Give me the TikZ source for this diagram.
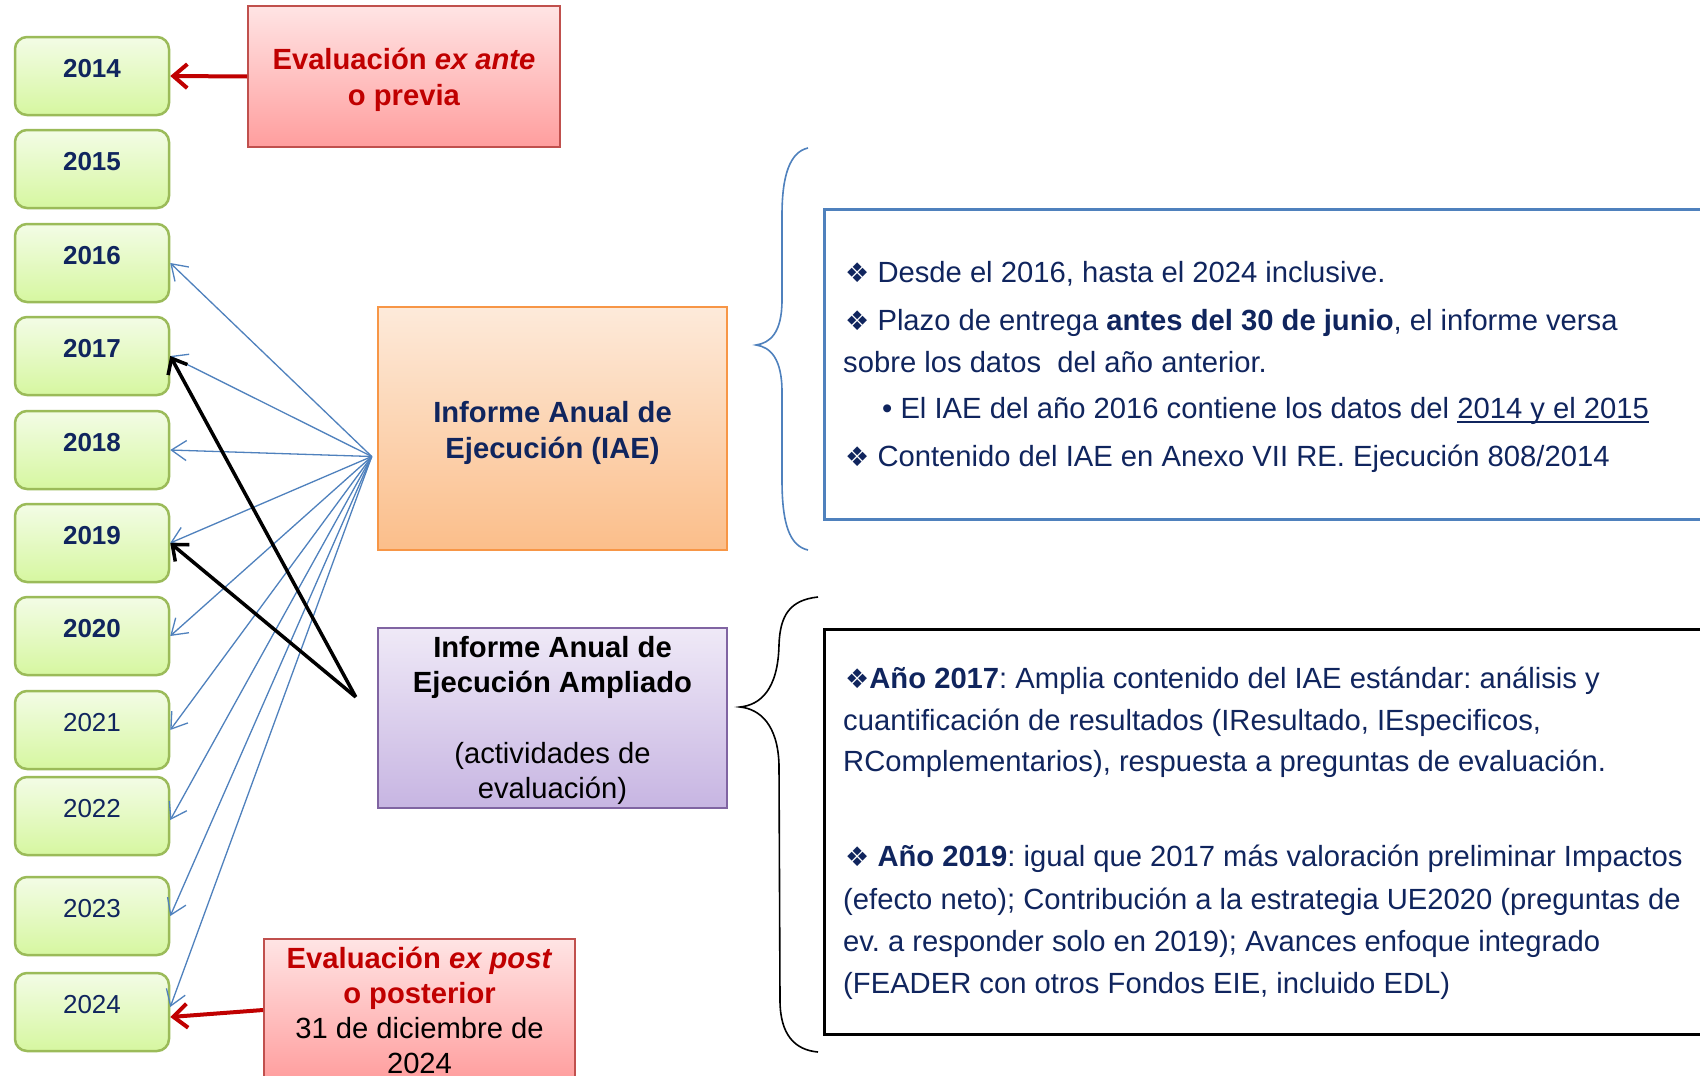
\documentclass[tikz,border=0pt]{standalone}
\usepackage{fontspec}
\setmainfont{Liberation Sans}
\newfontfamily\dv{DejaVu Sans}
\usetikzlibrary{arrows.meta}
\frenchspacing
\definecolor{navy}{RGB}{16,37,94}
\definecolor{dred}{RGB}{192,0,0}
\definecolor{gborder}{RGB}{155,187,89}
\definecolor{gtop}{RGB}{243,252,230}
\definecolor{gbot}{RGB}{214,247,160}
\definecolor{otop}{RGB}{253,234,218}
\definecolor{obot}{RGB}{251,190,138}
\definecolor{oborder}{RGB}{247,150,70}
\definecolor{ptop}{RGB}{239,233,247}
\definecolor{pbot}{RGB}{199,181,226}
\definecolor{pborder}{RGB}{128,100,162}
\definecolor{rtop}{RGB}{255,228,228}
\definecolor{rbot}{RGB}{255,158,158}
\definecolor{rborder}{RGB}{192,80,77}
\definecolor{blueline}{RGB}{79,129,189}
\newcommand{\dia}{{\dv\fontsize{27}{27}\selectfont\raisebox{0pt}{❖}}}
\newcommand{\ulin}[1]{\setbox0\hbox{#1}\rlap{\rule[-4.5pt]{\wd0}{2pt}}\box0}
\newcommand{\bodyf}{\fontsize{29.2}{35}\selectfont}
\newcommand{\yearf}{\fontsize{26}{30}\selectfont}
\begin{document}
\begin{tikzpicture}[x=1pt,y=-1pt,
  yearbox/.style={draw=gborder, line width=2.5pt, rounded corners=12pt,
    top color=gtop, bottom color=gbot, minimum width=154pt, minimum height=78pt,
    inner sep=0pt, text=navy, text height=19pt, text depth=16pt},
  redbox/.style={draw=rborder, line width=2pt, top color=rtop, bottom color=rbot,
    inner sep=0pt, align=center, font=\bodyf},
  orangebox/.style={draw=oborder, line width=2.5pt, top color=otop, bottom color=obot,
    inner sep=0pt},
  purplebox/.style={draw=pborder, line width=2.5pt, top color=ptop, bottom color=pbot,
    inner sep=0pt},
  boxlabel/.style={inner sep=0pt, align=center, font=\bodyf},
  textline/.style={anchor=base west, inner sep=0pt, font=\bodyf, text=navy},
  blueconn/.style={draw=blueline, line width=1.3pt, -{Straight Barb[length=15pt,width=20pt]}},
  blackconn/.style={draw=black, line width=3.5pt, -{Straight Barb[length=13pt,width=22pt]}},
  redconn/.style={draw=dred, line width=4pt, -{Straight Barb[length=14pt,width=24pt]}},
]
\useasboundingbox (0,0) rectangle (1700,1076);
\clip (0,0) rectangle (1700,1076);
\fill[white] (0,0) rectangle (1700,1076);

% year boxes
\node[yearbox, font=\yearf\bfseries] (y2014) at (92,76) {2014};
\node[yearbox, font=\yearf\bfseries] (y2015) at (92,169) {2015};
\node[yearbox, font=\yearf\bfseries] (y2016) at (92,263) {2016};
\node[yearbox, font=\yearf\bfseries] (y2017) at (92,356) {2017};
\node[yearbox, font=\yearf\bfseries] (y2018) at (92,450) {2018};
\node[yearbox, font=\yearf\bfseries] (y2019) at (92,543) {2019};
\node[yearbox, font=\yearf\bfseries] (y2020) at (92,636) {2020};
\node[yearbox, font=\yearf] (y2021) at (92,730) {2021};
\node[yearbox, font=\yearf] (y2022) at (92,816) {2022};
\node[yearbox, font=\yearf] (y2023) at (92,916) {2023};
\node[yearbox, font=\yearf] (y2024) at (92,1012) {2024};

% central boxes
\node[redbox, minimum width=312pt, minimum height=141pt] (ante) at (404,76.5) {};
\node[boxlabel, text=dred, font=\fontsize{29.2}{36}\selectfont] (antelabel) at (404,80)
  {\textbf{Evaluación \textit{ex ante}}\\\textbf{o previa}};
\node[orangebox, minimum width=349pt, minimum height=243pt] (iae) at (552.5,428.5) {};
\node[boxlabel, text=navy, font=\fontsize{29.2}{36}\selectfont\bfseries] (iaelabel) at (552.5,432.5)
  {Informe Anual de\\Ejecución (IAE)};
\node[purplebox, minimum width=349pt, minimum height=180pt] (iaea) at (552.5,718) {};
\node[boxlabel, text=black] (iaealabel) at (552.5,720.5)
  {\textbf{Informe Anual de}\\\textbf{Ejecución Ampliado}\\[36pt](actividades de\\evaluación)};
\node[redbox, minimum width=311pt, minimum height=142pt] (post) at (419.5,1010)
  {\textcolor{dred}{\textbf{Evaluación \textit{ex post}}}\\\textcolor{dred}{\textbf{o posterior}}\\31 de diciembre de\\2024};

% hubs
\coordinate (hub) at ([xshift=-5pt,yshift=-28pt]iae.west);
\coordinate (bhub) at ([xshift=-21pt,yshift=21pt]iaea.west);

% blue connectors
\draw[blueconn] (hub) -- (y2016.east);
\draw[blueconn] (hub) -- (y2017.east);
\draw[blueconn] (hub) -- (y2018.east);
\draw[blueconn] (hub) -- (y2019.east);
\draw[blueconn] (hub) -- (y2020.east);
\draw[blueconn] (hub) -- (y2021.east);
\draw[blueconn] (hub) -- ([yshift=-4pt]y2022.east);
\draw[blueconn] (hub) -- (y2023.east);
\draw[blueconn] (hub) -- ([yshift=5pt]y2024.east);

% black connectors
\draw[blackconn] (bhub) -- (y2017.east);
\draw[blackconn] (bhub) -- (y2019.east);

% red connectors
\draw[redconn] (ante.west) -- (y2014.east);
\draw[redconn] (post.west) -- ([yshift=-5pt]y2024.east);

% braces
\draw[blueline, line width=1.6pt] (808,148) .. controls (790,152) and (782,175) .. (782,215)
  -- (782,300) .. controls (782,333) and (770,343) .. (756,345)
  .. controls (770,347) and (782,358) .. (782,392)
  -- (782,480) .. controls (782,525) and (790,546) .. (808,550);
\draw[black, line width=1.6pt] (818,597) .. controls (790,600) and (780,615) .. (779,645)
  .. controls (778,690) and (760,705) .. (740,707)
  .. controls (760,709) and (778,725) .. (779,765)
  -- (780,1000) .. controls (780,1035) and (795,1050) .. (818,1052);

% right text boxes
\node[draw=blueline, line width=3pt, minimum width=889pt, minimum height=310pt,
  anchor=north west, inner sep=0pt] (iaetext) at (823,208) {};
\node[draw=black, line width=3pt, minimum width=889pt, minimum height=405pt,
  anchor=north west, inner sep=0pt] (amptext) at (823,628) {};

% blue box text
\node[textline] (b1) at (845,282) {\dia\ Desde el 2016, hasta el 2024 inclusive.};
\node[textline] (b2) at (845,330) {\dia\ Plazo de entrega \textbf{antes del 30 de junio}, el informe versa};
\node[textline] (b3) at (843,372) {sobre los datos\ \ del año anterior.};
\node[textline] (b4) at (882,418) {• El IAE del año 2016 contiene los datos del \ulin{2014 y el 2015}};
\node[textline] (b5) at (845,466) {\dia\ Contenido del IAE en Anexo VII RE. Ejecución 808/2014};

% black box text
\node[textline] (k1) at (845,688) {\dia\textbf{Año 2017}: Amplia contenido del IAE estándar: análisis y};
\node[textline] (k2) at (843,730) {cuantificación de resultados (IResultado, IEspecificos,};
\node[textline] (k3) at (843,771) {RComplementarios), respuesta a preguntas de evaluación.};
\node[textline] (k4) at (845,866) {\dia\ \textbf{Año 2019}: igual que 2017 más valoración preliminar Impactos};
\node[textline] (k5) at (843,909) {(efecto neto); Contribución a la estrategia UE2020 (preguntas de};
\node[textline] (k6) at (843,951) {ev. a responder solo en 2019); Avances enfoque integrado};
\node[textline] (k7) at (843,993) {(FEADER con otros Fondos EIE, incluido EDL)};
\end{tikzpicture}
\end{document}
